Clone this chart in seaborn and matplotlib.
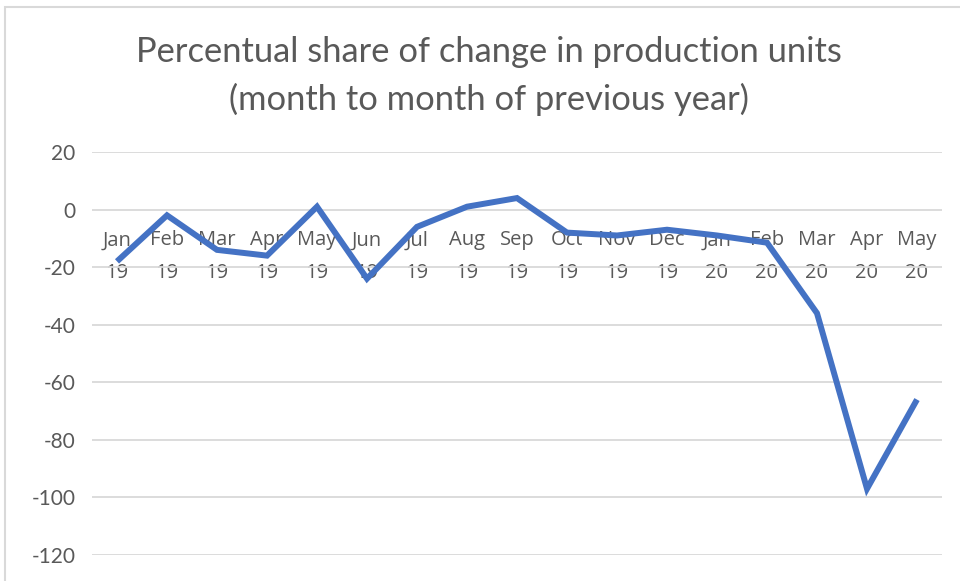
import matplotlib
matplotlib.use("Agg")
import matplotlib.pyplot as plt
import seaborn as sns
import pandas as pd
from matplotlib.patches import Rectangle

months = ["Jan", "Feb", "Mar", "Apr", "May", "Jun", "Jul", "Aug", "Sep", "Oct",
          "Nov", "Dec", "Jan", "Feb", "Mar", "Apr", "May"]
years = ["19"] * 12 + ["20"] * 5
values = [-18, -2, -14, -16, 1, -24, -6, 1, 4, -8, -9, -7, -9, -11.5, -36, -97, -66]
yticks = [-120, -100, -80, -60, -40, -20, 0, 20]

labels = [f"{m}\n{y}" for m, y in zip(months, years)]
df = pd.DataFrame({"idx": range(len(values)), "value": values})

sns.set_theme(style="white")
plt.rcParams["font.family"] = ["Lato", "DejaVu Sans"]

fig = plt.figure(figsize=(9.6, 5.81), dpi=100)
ax = fig.add_axes([92 / 960, 1 - 555 / 581, 850 / 960, (555 - 152) / 581])

sns.lineplot(data=df, x="idx", y="value", ax=ax, color="#4472C4", linewidth=4.3,
             solid_joinstyle="miter", solid_capstyle="butt")

ax.set_xlim(-0.5, len(values) - 0.5)
ax.set_ylim(-120, 20)
ax.set_yticks(yticks)
ax.set_yticklabels([str(t) for t in yticks])
ax.yaxis.grid(True, color="#D9D9D9", linewidth=1.3)
ax.set_axisbelow(True)
ax.set_xticks(range(len(values)))
ax.set_xticklabels(labels)
for s in ax.spines.values():
    s.set_visible(False)
ax.spines["bottom"].set_position(("data", 0))
ax.tick_params(axis="x", length=0, pad=15, labelsize=14.5, labelcolor="#595959")
ax.tick_params(axis="y", length=0, pad=12, labelsize=15, labelcolor="#595959")
ax.set_xlabel("")
ax.set_ylabel("")
fig.canvas.draw()
for lab in ax.get_xticklabels():
    lab.set_linespacing(1.85)
    lab.set_family(["Open Sans", "DejaVu Sans"])

fig.text(489 / 960, 1 - 52 / 581, "Percentual share of change in production units",
         ha="center", va="center", fontsize=24.8, color="#595959")
fig.text(489 / 960, 1 - 99 / 581, "(month to month of previous year)",
         ha="center", va="center", fontsize=24.8, color="#595959")

fig.patches.append(Rectangle((5 / 960, -0.05), 1.05, 1 - 7 / 581 + 0.05,
                             transform=fig.transFigure, fill=False,
                             edgecolor="#D9D9D9", linewidth=1.5))

fig.savefig("out.png", dpi=100)
